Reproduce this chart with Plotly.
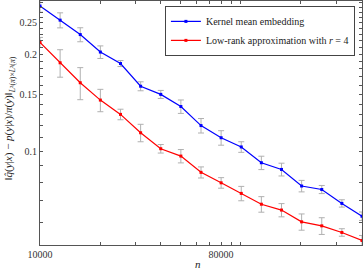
import plotly.graph_objects as go

n_samples = [10000, 12599, 15874, 20000, 25198, 31748, 40000, 50397, 63496,
             80000, 100794, 126992, 160000, 201587, 253984, 320000, 403175]

kme_err = [0.282, 0.255, 0.230, 0.203, 0.187, 0.159, 0.150, 0.1375, 0.120,
           0.110, 0.103, 0.092, 0.0877, 0.0779, 0.0760, 0.0688, 0.0628]
kme_std = [0.0121, 0.0137, 0.0115, 0.0091, 0.0040, 0.0051, 0.0043, 0.0066, 0.0062,
           0.0057, 0.0039, 0.0044, 0.0040, 0.0032, 0.0022, 0.0018, 0.0019]

lr_err = [0.2176, 0.188, 0.163, 0.144, 0.130, 0.114, 0.1017, 0.0965, 0.0859,
          0.0797, 0.0739, 0.0684, 0.0656, 0.0603, 0.0586, 0.0559, 0.0528]
lr_std = [0.0078, 0.0184, 0.0186, 0.0115, 0.0049, 0.0071, 0.0031, 0.0046, 0.0034,
          0.0030, 0.0038, 0.0038, 0.0031, 0.0035, 0.0035, 0.0015, 0.0019]

x_major_vals = [10000, 80000]
x_major_text = ["10000", "80000"]
x_minor_vals = [20000, 30000, 40000, 50000, 60000, 70000, 90000,
                100000, 200000, 300000, 400000]

y_major_vals = [0.10, 0.15, 0.20, 0.25]
y_major_text = ["0.1", "0.15", "0.2", "0.25"]
y_minor_vals = [0.06, 0.07, 0.08, 0.09, 0.11, 0.12, 0.13, 0.14, 0.16,
                0.17, 0.18, 0.19, 0.21, 0.22, 0.23, 0.24, 0.26, 0.27,
                0.28, 0.29]

FONT = "Liberation Serif"
err_style = dict(type="data", thickness=1, width=3, color="#b0b0b0")

fig = go.Figure()
fig.add_trace(go.Scatter(
    x=n_samples, y=kme_err, mode="lines+markers",
    name="Kernel mean embedding",
    line=dict(color="#0000ff", width=1.2),
    marker=dict(symbol="square", size=3, color="#0000ff"),
    error_y=dict(array=kme_std, **err_style),
))
fig.add_trace(go.Scatter(
    x=n_samples, y=lr_err, mode="lines+markers",
    name="Low-rank approximation with <i>r</i> = 4",
    line=dict(color="#ff0000", width=1.2),
    marker=dict(symbol="square", size=3, color="#ff0000"),
    error_y=dict(array=lr_std, **err_style),
))

axis_common = dict(
    type="log", showgrid=False, zeroline=False, automargin=False,
    showline=True, linecolor="#555555", linewidth=1, mirror="ticks",
    ticks="inside", ticklen=3, tickcolor="#555555", tickwidth=1,
    tickangle=0,
    tickfont=dict(family=FONT, size=10, color="#333333"),
)
minor_common = dict(ticks="inside", ticklen=3, tickcolor="#555555", tickwidth=1,
                    showgrid=False)

fig.update_layout(
    width=364, height=270,
    margin=dict(l=40, r=2, t=1, b=25),
    paper_bgcolor="white", plot_bgcolor="white",
    font=dict(family=FONT, size=10, color="#222222"),
    showlegend=True,
    legend=dict(
        x=0.978, y=0.98, xanchor="right", yanchor="top",
        bgcolor="white", bordercolor="#444444", borderwidth=1,
        font=dict(family=FONT, size=10, color="#222222"),
        tracegroupgap=0, itemwidth=30,
    ),
    xaxis=dict(range=[4.0, 5.6055], tickmode="array", tickvals=x_major_vals,
               ticktext=x_major_text,
               minor=dict(tickmode="array", tickvals=x_minor_vals, **minor_common),
               **axis_common),
    yaxis=dict(range=[-1.2916, -0.534], tickmode="array", tickvals=y_major_vals,
               ticktext=y_major_text,
               minor=dict(tickmode="array", tickvals=y_minor_vals, **minor_common),
               **axis_common),
    annotations=[
        dict(text="<i>n</i>", xref="paper", yref="paper", x=0.49, y=-0.076,
             xanchor="center", yanchor="middle", showarrow=False,
             font=dict(family=FONT, size=11, color="#222222")),
        dict(text="‖<i>q̂</i>(<i>y</i>|<i>x</i>) − <i>p</i>(<i>y</i>|<i>x</i>)/<i>π</i>(<i>y</i>)‖"
                  "<sub><i>L</i>²(<i>π</i>)×<i>L</i>²(<i>π</i>)</sub>",
             xref="paper", yref="paper", x=-0.095, y=0.52,
             xanchor="center", yanchor="middle", textangle=-90, showarrow=False,
             font=dict(family=FONT, size=11, color="#222222")),
    ],
)

fig.write_html("out.html", config={"displayModeBar": False},
               post_script="document.body.style.margin='0';")
